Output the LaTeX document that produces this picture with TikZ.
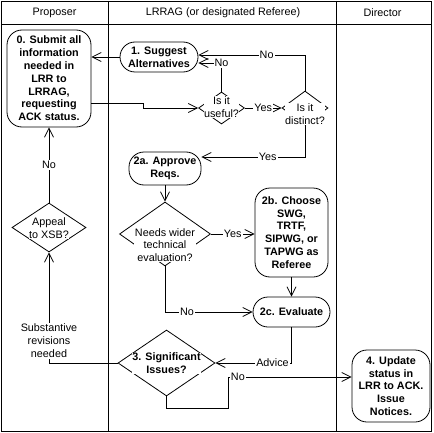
\documentclass[tikz,border=0pt]{standalone}
\usepackage{fontspec}
\setmainfont{Liberation Sans}
\usepackage{tikz}
\usetikzlibrary{arrows.meta,shapes.geometric,backgrounds}
\newcommand{\clrline}{black}

\begin{document}
\begin{tikzpicture}[x=1pt, y=-1pt, font=\fontsize{10.8}{12.8}\selectfont,
    stepbox/.style={draw=\clrline, line width=0.8pt, rounded corners=15pt, align=center, inner sep=0pt, font=\fontsize{10.8}{12.8}\selectfont\bfseries},
    choice/.style={draw=\clrline, line width=0.8pt, diamond, inner sep=0pt},
    choicetext/.style={fill=white, align=center, inner sep=0.5pt},
    flow/.style={draw=\clrline, line width=0.8pt, -{Straight Barb[length=9pt,width=9pt]}},
    answer/.style={fill=white, inner sep=1pt}]
    \useasboundingbox (0,0) rectangle (433,433);
    %lanes
        \draw[line width=0.8pt] (1,1) rectangle (431,431);
        \draw[line width=0.8pt] (1,24) -- (431,24);
        \draw[line width=0.8pt] (108.5,1) -- (108.5,431);
        \draw[line width=0.8pt] (336.5,1) -- (336.5,431);
        \foreach \n/\x/\t in {proposer/54.5/Proposer, lrrag/223/LRRAG (or designated Referee), director/382.5/Director} {
            \node (\n) at (\x,12.5) {\t};
        }
    %steps
        \node[stepbox, minimum width=84pt, minimum height=97pt] (submit) at (49,78.5) {0. Submit all\\information\\needed in\\LRR to\\LRRAG,\\requesting\\ACK status.};
        \node[stepbox, minimum width=78pt, minimum height=30pt] (suggest) at (159,57) {1. Suggest\\Alternatives};
        \node[stepbox, minimum width=72pt, minimum height=33pt] (approve) at (165,168.5) {2a. Approve\\Reqs.};
        \node[stepbox, minimum width=73pt, minimum height=89pt] (choose) at (291.5,232.5) {2b. Choose\\SWG,\\TRTF,\\SIPWG, or\\TAPWG as\\Referee};
        \node[stepbox, minimum width=77pt, minimum height=30pt] (evaluate) at (291.5,312) {2c. Evaluate};
        \node[stepbox, minimum width=78pt, minimum height=72pt] (update) at (391,386) {4. Update\\status in\\LRR to ACK.\\Issue\\Notices.};
    %decisions
        \node[choice, minimum width=46pt, minimum height=32pt] (useful) at (221.5,108) {};
        \node[choice, minimum width=46pt, minimum height=34pt] (distinct) at (305,108) {};
        \node[choice, minimum width=91pt, minimum height=64pt] (wider) at (165,234) {};
        \node[choice, minimum width=97pt, minimum height=66pt] (issues) at (166.5,363) {};
        \node[choice, minimum width=74pt, minimum height=49pt] (appeal) at (49,227.5) {};
        \coordinate (bend) at (228,408);
        \begin{scope}[on background layer]
            \draw[flow] (suggest.west) -- (suggest.west -| submit.east);
            \draw[flow] (submit.east |- 0,103) -- (143,103) |- (useful.west);
            \draw[flow] (useful.east) -- node[answer]{Yes} (distinct.west);
            \draw[flow] (useful.north) |- node[answer]{No} (suggest.east |- 0,63);
            \draw[flow] (distinct.north) |- node[answer, pos=0.68]{No} (suggest.east |- 0,55);
            \draw[flow] (distinct.south) |- node[answer, pos=0.68]{Yes} (approve.east |- 0,157);
            \draw[flow] (approve.south) -- (wider.north);
            \draw[flow] (wider.east) -- node[answer]{Yes} (wider.east -| choose.west);
            \draw[flow] (wider.south) |- node[answer, pos=0.625]{No} (evaluate.west);
            \draw[flow] (choose.south) -- (evaluate.north);
            \draw[flow] (evaluate.south) |- node[answer, pos=0.625]{Advice} (issues.east);
            \draw[flow] (issues.west) -| node[answer, pos=0.6, align=center]{Substantive\\revisions\\needed} (appeal.south);
            \draw[flow] (appeal.north) -- node[answer]{No} (submit.south);
            \draw[flow] (issues.south) |- (bend) |- node[answer, pos=0.54]{No} (update.west |- 0,377);
        \end{scope}
        \node[choicetext] (useful-t) at (221.5,107) {Is it\\useful?};
        \node[choicetext] (distinct-t) at (305,114) {Is it\\distinct?};
        \node[choicetext] (wider-t) at (165,245) {Needs wider\\technical\\evaluation?};
        \node[choicetext, font=\fontsize{10.8}{12.8}\selectfont\bfseries] (issues-t) at (166.5,363.5) {3. Significant\\Issues?};
        \node[choicetext] (appeal-t) at (49,228.5) {Appeal\\to XSB?};
    \end{tikzpicture}
\end{document}
